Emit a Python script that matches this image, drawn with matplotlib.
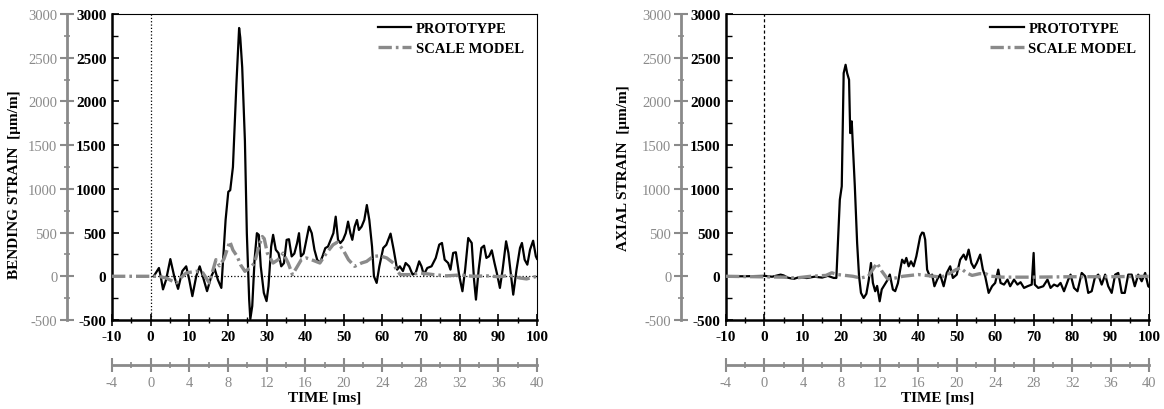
import numpy as np
import matplotlib.pyplot as plt
from matplotlib.ticker import MultipleLocator

plt.rcParams['font.family'] = ['Liberation Serif', 'DejaVu Serif']
plt.rcParams['axes.unicode_minus'] = False

# ---- data (time in ms on the black scale, strain in um/m) ----
bend_proto_t = [0.8, 2.15, 2.6, 3.2, 4.0, 5.1, 6.1, 7.1, 8.2, 9.2, 10.0, 10.8, 11.8, 12.7, 13.5, 14.6,
                15.7, 16.6, 17.4, 18.3, 19.4, 20.1, 20.6, 21.3, 22.2, 22.9, 23.2, 23.7, 24.4, 24.9,
                25.5, 25.8, 26.3, 26.9, 27.5, 28.0, 28.5, 29.3, 30.0, 30.5, 31.2, 31.7, 32.4, 33.1,
                33.8, 34.5, 35.2, 35.8, 36.5, 37.2, 37.9, 38.4, 38.9, 39.6, 40.3, 41.0, 41.7, 42.4,
                43.1, 43.8, 44.5, 45.2, 45.9, 46.6, 47.3, 47.9, 48.5, 49.1, 49.8, 50.5, 51.1, 51.7,
                52.2, 52.8, 53.4, 53.9, 54.6, 55.3, 55.96, 56.6, 57.3, 57.8, 58.5, 59.2, 60.2, 61.0,
                62.1, 62.9, 63.8, 64.5, 65.3, 66.0, 66.9, 67.8, 68.6, 69.5, 70.1, 70.7, 71.6, 72.7,
                73.8, 74.7, 75.4, 76.1, 77.0, 77.6, 78.3, 79.0, 79.9, 80.7, 81.4, 82.2, 83.1, 83.7,
                84.2, 84.9, 85.6, 86.3, 86.9, 87.6, 88.3, 89.0, 89.7, 90.4, 91.1, 92.0, 92.6, 93.2,
                93.85, 94.7, 95.6, 96.1, 96.8, 97.5, 98.2, 99.0, 99.7, 100.0]
bend_proto_v = [0, 95, 0, -150, -40, 197, 0, -144, 60, 114, -40, -227, 0, 114, 0, -170,
                0, 83, -40, -133, 644, 966, 985, 1250, 2200, 2840, 2730, 2390, 1550, 490,
                -265, -490, -340, 190, 493, 474, 114, -190, -284, -114, 341, 474, 303, 265,
                114, 150, 417, 424, 227, 260, 379, 493, 227, 260, 417, 568, 493, 303,
                190, 152, 230, 322, 340, 417, 493, 682, 417, 380, 417, 493, 625, 493,
                417, 568, 644, 530, 568, 644, 815, 644, 341, 0, -76, 114, 324, 360,
                488, 305, 76, 114, 60, 152, 114, 19, 38, 171, 114, 19, 95, 114,
                210, 362, 381, 190, 152, 76, 267, 275, 0, -171, 76, 438, 381, -38,
                -267, 76, 324, 350, 210, 229, 297, 152, 19, -133, 76, 400, 267, 38,
                -210, 76, 324, 381, 190, 133, 305, 407, 229, 200]

bend_model_t = [-10, 2, 4, 6.6, 8, 9.2, 11.8, 13.5, 15.2, 16.9, 17.8, 19, 20.5, 21.3, 22.4, 23.3,
                24.4, 25.6, 26.9, 28.0, 28.9, 29.4, 30.2, 31.7, 33, 34.3, 35.6, 36.7, 37.8, 39.0,
                40.3, 41.6, 43.8, 45.5, 47.2, 48.3, 49.8, 51.2, 52.8, 54.6, 55.9, 57.6, 59.3, 61.1,
                62.8, 63.6, 64.6, 67.1, 69.7, 73, 76.6, 80, 83.5, 87, 90, 93, 95.6, 97.3, 100]
bend_model_v = [0, 0, -20, -76, -10, 38, 57, 40, -76, 190, 120, 200, 398, 300, 227, 130,
                57, 90, 152, 341, 455, 430, 265, 152, 190, 265, 152, 19, 100, 190,
                210, 190, 152, 265, 360, 390, 303, 190, 114, 152, 170, 227, 235, 210,
                152, 76, 19, 19, 38, 20, 5, 15, 0, 5, -5, 10, -20, -30, 0]

axial_proto_t = [-10, -5, 0, 2, 4.2, 5, 6, 7.6, 9, 11, 13, 15, 16.5, 18.0, 18.7, 19.6, 20.1, 20.6,
                 21.1, 21.5, 22.0, 22.3, 22.7, 23.0, 23.5, 24.1, 24.6, 25.1, 25.8, 26.5, 27.1, 27.7,
                 28.2, 28.8, 29.3, 29.96, 30.5, 31.2, 31.9, 32.6, 33.4, 34.0, 34.7, 35.3, 35.8, 36.4,
                 36.9, 37.5, 38.1, 38.8, 39.5, 40.5, 41.0, 41.4, 41.8, 42.3, 43.0, 43.6, 44.2, 45,
                 45.7, 46.6, 47.4, 48.3, 49.0, 50.0, 50.9, 51.8, 52.4, 53.1, 53.8, 54.5, 55.2, 56.1,
                 56.8, 57.4, 58.3, 59.2, 60.0, 60.8, 61.4, 62.3, 63.2, 63.9, 64.9, 65.8, 66.6, 67.5,
                 68.4, 69.5, 70.0, 70.3, 71.2, 72.5, 73.6, 74.4, 75.3, 76.2, 77.0, 77.9, 79.0, 79.6,
                 80.5, 81.4, 82.5, 83.4, 84.2, 85.1, 85.9, 86.8, 87.7, 88.6, 89.4, 90.3, 91.2, 92.0,
                 92.9, 93.7, 94.6, 95.5, 96.3, 97.2, 98.1, 99.0, 99.8, 100]
axial_proto_v = [0, 0, 5, -5, 19, 10, -15, -30, -10, -20, -5, -15, 5, -19, -19, 876, 1029, 2324,
                 2419, 2324, 2248, 1638, 1772, 1486, 1029, 381, 0, -190, -248, -200, -50, 152,
                 -76, -171, -110, -286, -150, -100, -50, 20, -152, -170, -80, 76, 190, 150,
                 210, 114, 171, 114, 229, 457, 500, 495, 419, 76, 0, 19, -114, -30,
                 19, -114, 38, 114, -19, 19, 190, 248, 190, 305, 152, 95, 152, 248,
                 76, 0, -190, -114, -76, 76, -76, -95, -38, -114, -38, -95, -68, -133,
                 -114, -95, 267, -95, -133, -114, -38, -133, -95, -114, -76, -171, -38, 19,
                 -133, -171, 38, 0, -190, -171, -19, 19, -95, 19, -114, -190, 19, 38,
                 -190, -190, 19, 19, -114, 19, -57, 38, -114, -120]

axial_model_t = [-10, 5, 8, 12, 16, 17.5, 19, 21, 23, 25, 27, 28.5, 29.3, 30.5, 32, 34, 36, 38,
                 40, 42, 44, 46, 48, 50, 51, 52.5, 54, 56, 57.5, 59, 62, 65, 70, 80, 90, 100]
axial_model_v = [0, -10, -20, 0, 10, 40, 20, 10, 0, -20, 0, 100, 150, 60, -30, -20, 0, 10,
                 20, 10, 0, -10, 30, 80, 95, 40, 10, 30, 30, 0, -10, -10, -10, -5, -5, 0]

gray = '#8a8a8a'
fs = 11


def panel(ax, tp, vp, tm, vm, ylabel, ylab_x, ylab_y, vline_style, hline):
    ax.plot(tp, vp, color='black', lw=1.6, label='PROTOTYPE', zorder=3)
    ax.plot(tm, vm, color=gray, lw=2.4, dashes=(4, 1.2, 0.8, 1.2), label='SCALE MODEL', zorder=4)
    ax.axvline(0, color='black', lw=0.9, ls=vline_style, zorder=1)
    if hline:
        ax.plot([0, 100], [0, 0], color='black', lw=0.9, ls=':', zorder=1)
    ax.set_xlim(-10, 100)
    ax.set_ylim(-500, 3000)

    ax.spines['left'].set_linewidth(1.8)
    ax.spines['bottom'].set_linewidth(1.8)
    ax.spines['top'].set_linewidth(0.8)
    ax.spines['right'].set_linewidth(0.8)
    ax.xaxis.set_major_locator(MultipleLocator(10))
    ax.xaxis.set_minor_locator(MultipleLocator(5))
    ax.yaxis.set_major_locator(MultipleLocator(500))
    ax.yaxis.set_minor_locator(MultipleLocator(250))
    ax.tick_params(axis='x', which='major', direction='inout', length=8, width=1.2, pad=3)
    ax.tick_params(axis='x', which='minor', direction='inout', length=4, width=1)
    ax.tick_params(axis='y', which='major', direction='in', length=5, width=1.2, pad=4)
    ax.tick_params(axis='y', which='minor', direction='in', length=4, width=1)
    for lab in ax.get_xticklabels() + ax.get_yticklabels():
        lab.set_fontweight('bold')
        lab.set_fontsize(fs)

    # gray secondary y axis
    w = ax.get_window_extent().width
    h = ax.get_window_extent().height
    sy = ax.secondary_yaxis(-45 / w)
    sy.yaxis.set_major_locator(MultipleLocator(500))
    sy.yaxis.set_minor_locator(MultipleLocator(250))
    sy.spines['left'].set_color(gray)
    sy.spines['left'].set_linewidth(2)
    sy.tick_params(which='major', direction='inout', length=10, width=1.5, colors=gray, pad=2)
    sy.tick_params(which='minor', direction='inout', length=5, width=1.2, colors=gray)
    for lab in sy.get_yticklabels():
        lab.set_fontsize(10.5)

    # gray secondary x axis (scale model time)
    sx = ax.secondary_xaxis(-45 / h, functions=(lambda x: x / 2.5, lambda x: x * 2.5))
    sx.xaxis.set_major_locator(MultipleLocator(4))
    sx.xaxis.set_minor_locator(MultipleLocator(2))
    sx.spines['bottom'].set_color(gray)
    sx.spines['bottom'].set_linewidth(2)
    sx.tick_params(which='major', direction='inout', length=10, width=1.5, colors=gray, pad=3)
    sx.tick_params(which='minor', direction='inout', length=5, width=1.2, colors=gray)
    for lab in sx.get_xticklabels():
        lab.set_fontsize(10.5)
    sx.set_xlabel('TIME [ms]', fontsize=fs, fontweight='bold', color='black', labelpad=1)

    ax.legend(loc='upper left', bbox_to_anchor=(0.625, 0.975), frameon=False,
              prop={'weight': 'bold', 'size': 10.5}, handlelength=2.3,
              handletextpad=0.3, labelspacing=0.5, borderpad=0, borderaxespad=0)

    ax.figure.text(ylab_x, ylab_y, ylabel, rotation=90, ha='center', va='center',
                   fontsize=fs, fontweight='bold')


fig = plt.figure(figsize=(11.64, 4.10), dpi=100)
W, H = 1164, 410
ax1 = fig.add_axes([112 / W, 1 - 321 / H, 425 / W, 306 / H])
ax2 = fig.add_axes([726 / W, 1 - 321 / H, 423 / W, 306 / H])

panel(ax1, bend_proto_t, bend_proto_v, bend_model_t, bend_model_v,
      'BENDING STRAIN  [\u03bcm/m]', 15 / W, 1 - 185 / H, ':', True)
panel(ax2, axial_proto_t, axial_proto_v, axial_model_t, axial_model_v,
      'AXIAL STRAIN  [\u03bcm/m]', 623 / W, 1 - 168 / H, (0, (2.5, 2)), False)

fig.savefig('out.png', dpi=100)
